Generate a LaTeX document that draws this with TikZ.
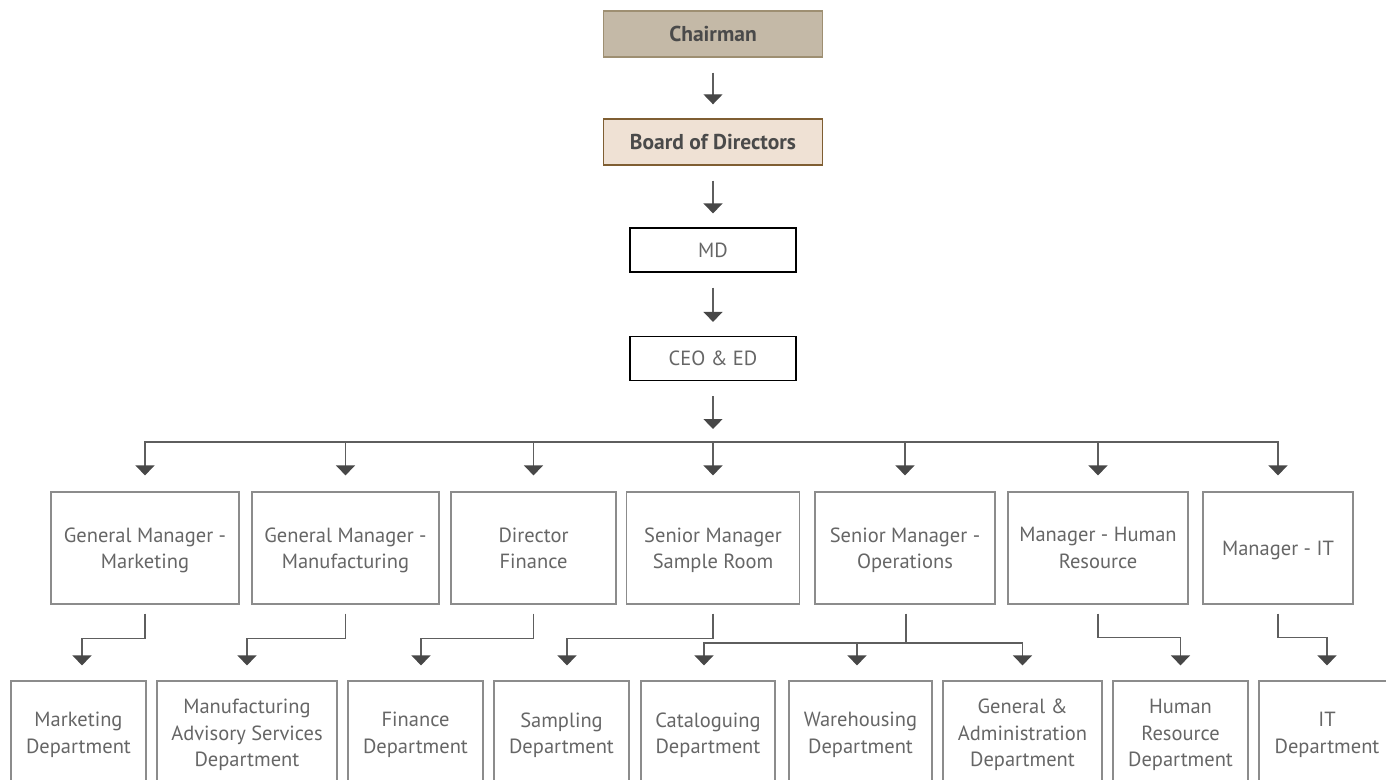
\documentclass[tikz,border=0pt]{standalone}
\usepackage{fontspec}
\setmainfont{PT Sans}
\usetikzlibrary{arrows.meta}

\definecolor{chairfill}{HTML}{C4B9A7}
\definecolor{chairline}{HTML}{9E8F72}
\definecolor{boardfill}{HTML}{EFE1D4}
\definecolor{boardline}{HTML}{7F5E32}
\definecolor{boxline}{HTML}{8C8C8C}
\definecolor{wireline}{HTML}{5E5E5E}
\definecolor{tipgrey}{HTML}{474747}
\definecolor{txtgrey}{HTML}{666666}
\definecolor{boldgrey}{HTML}{4A4A4A}

\begin{document}
\begin{tikzpicture}[x=1pt, y=-1pt,
    box/.style={draw=boxline, line width=1.2pt, fill=white, inner sep=0pt,
        align=center, text=txtgrey, font=\fontsize{20.5}{26.5}\selectfont},
    midbox/.style={box, minimum height=112pt, text depth=-2pt},
    deptbox/.style={box, minimum height=108pt},
    topbox/.style={box, draw=black, minimum width=166pt, minimum height=44pt},
    headbox/.style={box, line width=1.4pt, minimum width=219pt,
        minimum height=46pt, text=boldgrey, font=\fontsize{21.5}{24}\selectfont\bfseries},
    arr/.style={draw=wireline, line width=1.3pt,
        -{Triangle[width=19pt, length=10pt, color=tipgrey]}},
    gap/.style={shorten <=15pt, shorten >=14pt}
]
    \path[use as bounding box, clip] (0,0) rectangle (1386,779);

    % top of the chain
    \node[headbox, fill=chairfill, draw=chairline] (chair) at (713,34) {Chairman};
    \node[headbox, fill=boardfill, draw=boardline] (board) at (713,142) {Board of Directors};
    \node[topbox] (md) at (713,250) {MD};
    \node[topbox] (ceo) at (713,358.5) {CEO \& ED};
    \coordinate (bus) at (713,442);

    % managers
    \node[midbox, minimum width=188pt] (gmmkt) at (145,548) {General Manager -\\Marketing};
    \node[midbox, minimum width=187pt] (gmmfg) at (345.5,548) {General Manager -\\Manufacturing};
    \node[midbox, minimum width=165pt] (dirfin) at (533.5,548) {Director\\Finance};
    \node[midbox, minimum width=173pt] (smsample) at (713,548) {Senior Manager\\Sample Room};
    \node[midbox, minimum width=180pt] (smops) at (905,548) {Senior Manager -\\Operations};
    \node[midbox, minimum width=180pt] (mgrhr) at (1098,548) {Manager - Human\\Resource};
    \node[midbox, minimum width=150pt] (mgrit) at (1278,548) {Manager - IT};
    \coordinate (opsbus) at (906,643);

    % departments
    \node[deptbox, minimum width=135pt] (mktdept) at (78.5,735) {Marketing\\Department};
    \node[deptbox, minimum width=180pt] (mfgdept) at (247,735) {Manufacturing\\Advisory Services\\Department};
    \node[deptbox, minimum width=135pt] (findept) at (415.5,735) {Finance\\Department};
    \node[deptbox, minimum width=135pt] (sampdept) at (561.5,735) {Sampling\\Department};
    \node[deptbox, minimum width=134pt] (catdept) at (708,735) {Cataloguing\\Department};
    \node[deptbox, minimum width=143pt] (whdept) at (860.5,735) {Warehousing\\Department};
    \node[deptbox, minimum width=159pt] (gadept) at (1022.5,735) {General \&\\Administration\\Department};
    \node[deptbox, minimum width=135pt] (hrdept) at (1180.5,735) {Human\\Resource\\Department};
    \node[deptbox, minimum width=136pt] (itdept) at (1327,735) {IT\\Department};

    \draw[arr, gap] (chair) -- (board);
    \draw[arr, gap] (board) -- (md);
    \draw[arr, gap] (md) -- (ceo);
    \draw[arr, shorten <=15pt, shorten >=13pt] (ceo) -- (bus);

    \draw[arr, shorten >=16pt] (bus) -| (gmmkt.north);
    \draw[arr, shorten >=16pt] (bus) -| (gmmfg.north);
    \draw[arr, shorten >=16pt] (bus) -| (dirfin.north);
    \draw[arr, shorten >=16pt] (bus) -- (smsample.north);
    \draw[arr, shorten >=16pt] (bus) -| (smops.north);
    \draw[arr, shorten >=16pt] (bus) -| (mgrhr.north);
    \draw[arr, shorten >=16pt] (bus) -| (mgrit.north);

    \draw[arr, shorten <=9pt, shorten >=15pt] (gmmkt.south) -- ++(0,34) -| ([xshift=3.5pt]mktdept.north);
    \draw[arr, shorten <=9pt, shorten >=15pt] (gmmfg.south) -- ++(0,34) -| (mfgdept.north);
    \draw[arr, shorten <=9pt, shorten >=15pt] (dirfin.south) -- ++(0,34) -| ([xshift=5.5pt]findept.north);
    \draw[arr, shorten <=9pt, shorten >=15pt] (smsample.south) -- ++(0,34) -| ([xshift=5.5pt]sampdept.north);
    \draw[draw=wireline, line width=1.3pt, shorten <=9pt] (opsbus |- smops.south) -- (opsbus);
    \draw[arr, shorten >=15pt] (opsbus) -| ([xshift=-4pt]catdept.north);
    \draw[arr, shorten >=15pt] (opsbus) -| ([xshift=-3.5pt]whdept.north);
    \draw[arr, shorten >=15pt] (opsbus) -| (gadept.north);
    \draw[arr, shorten <=9pt, shorten >=15pt] (mgrhr.south) -- ++(0,33) -| (hrdept.north);
    \draw[arr, shorten <=9pt, shorten >=15pt] (mgrit.south) -- ++(0,33) -| (itdept.north);
\end{tikzpicture}
\end{document}
